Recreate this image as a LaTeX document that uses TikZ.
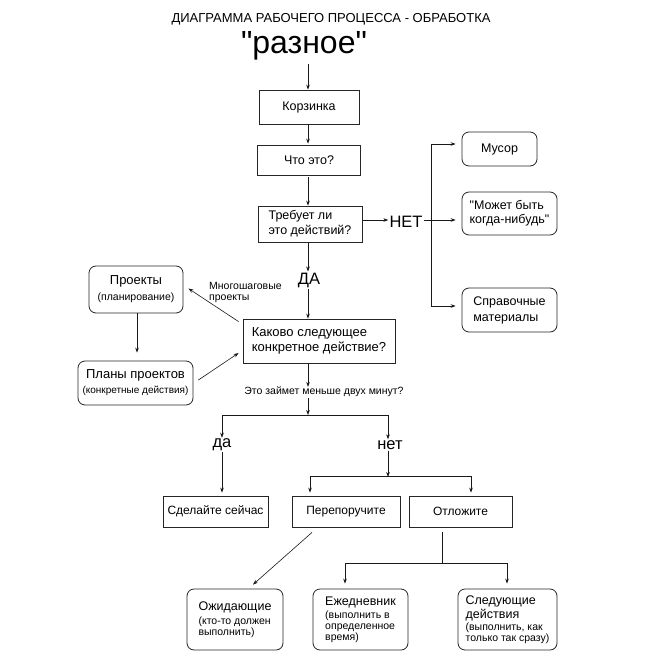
\documentclass[tikz,border=0pt]{standalone}
\usepackage{fontspec}
\setmainfont{Liberation Sans}
\newfontfamily\lsans{Liberation Sans}
\usetikzlibrary{arrows.meta}
\newcommand{\fsT}{\fontsize{13}{15}\selectfont}
\newcommand{\fsBig}{\fontsize{32}{36}\selectfont}
\newcommand{\fsM}{\fontsize{12.5}{15}\selectfont}
\newcommand{\fsL}{\fontsize{16.5}{19}\selectfont}
\newcommand{\fsS}{\fontsize{10.5}{11}\selectfont}
\begin{document}
\begin{tikzpicture}[x=1pt,y=-1pt,
  box/.style={draw=black!85, line width=0.8pt, inner sep=0pt, font=\fsM, align=left},
  rbox/.style={box, rounded corners=7pt},
  lbl/.style={inner sep=1pt},
  arr/.style={-{Stealth[length=5pt,width=3.6pt]}, line width=0.6pt, draw=black!90},
  ln/.style={line width=0.6pt, draw=black!90}]
\useasboundingbox[fill=white] (0,0) rectangle (663,663);

% title
\node[lbl, font=\fsT] (title) at (331,19) {ДИАГРАММА РАБОЧЕГО ПРОЦЕССА - ОБРАБОТКА};
\node[lbl, font=\fsBig\lsans] (razn) at (304,46) {"разное"};

% main column
\node[box, minimum width=100pt, minimum height=34pt] (korz) at (309,107) {Корзинка};
\node[box, minimum width=103pt, minimum height=30pt] (chto) at (309,160) {Что это?};
\node[box, minimum width=104pt, minimum height=36pt] (treb) at (310,224) {Требует ли\\это действий?};
\node[lbl, font=\fsL] (net) at (406,222) {НЕТ};
\node[lbl, font=\fsL] (da) at (309,280) {ДА};

% right branch
\node[rbox, minimum width=75pt, minimum height=34pt] (musor) at (499.5,149) {Мусор};
\node[rbox, minimum width=95pt, minimum height=43pt, font=\fontsize{12.5}{14}\selectfont\lsans] (mozhet) at (509.5,213.5) {"Может быть\\когда-нибудь"};
\node[rbox, minimum width=95pt, minimum height=44pt, font=\fontsize{12.5}{16}\selectfont] (sprav) at (509.5,310) {Справочные\\материалы};

% projects
\node[rbox, minimum width=94pt, minimum height=47pt, align=center] (proj) at (136,289.5) {{\fontsize{13}{13}\selectfont Проекты}\\[1pt]{\fsS (планирование)}};
\node[rbox, minimum width=115pt, minimum height=44pt, align=center] (plany) at (135.5,383) {{\fontsize{13}{13}\selectfont Планы проектов}\\[0pt]{\fontsize{10}{11}\selectfont (конкретные действия)}};
\node[box, minimum width=152pt, minimum height=44pt, font=\fontsize{13}{14.5}\selectfont] (kakovo) at (319,341) {Каково следующее\\конкретное действие?};
\node[lbl, font=\fsS, align=left, anchor=west] (mnog) at (208,292) {Многошаговые\\проекты};

\node[lbl, font=\fsS] (twomin) at (324,392) {Это займет меньше двух минут?};
\node[lbl, font=\fsL] (dasm) at (222,445) {да};
\node[lbl, font=\fsL] (netsm) at (390,445) {нет};

\node[box, minimum width=105pt, minimum height=31pt, font=\fontsize{12}{14}\selectfont] (sdel) at (215.5,511.5) {Сделайте сейчас};
\node[box, minimum width=108pt, minimum height=31pt, font=\fontsize{12}{14}\selectfont] (pere) at (346,511.5) {Перепоручите};
\node[box, minimum width=103pt, minimum height=31pt, font=\fontsize{12}{14}\selectfont] (otl) at (460.5,511.5) {Отложите};

\node[rbox, minimum width=96pt, minimum height=61pt, font=\fsS] (ozh) at (235,619.5) {{\fsM Ожидающие}\\[3pt](кто-то должен\\выполнить)};
\node[rbox, minimum width=95pt, minimum height=61pt, font=\fsS] (ezh) at (360.5,619.5) {{\fsM Ежедневник}\\[2pt](выполнить в\\определенное\\время)};
\node[rbox, minimum width=99pt, minimum height=61pt, font=\fsS] (sled) at (507.5,619.5) {{\fsM Следующие}\\[1pt]{\fsM действия}\\[1pt](выполнить, как\\только так сразу)};

% helper coordinates
\coordinate (axis) at (308,0);
\coordinate (nj) at (431,220);
\coordinate (nt) at (431,144);
\coordinate (nb) at (431,306);
\coordinate (s1) at (308,415);
\coordinate (l1) at (222,415);
\coordinate (r1) at (388,415);
\coordinate (s2) at (388,477);
\coordinate (l2) at (310,476);
\coordinate (r2) at (471,476);
\coordinate (s3) at (442,563);
\coordinate (l3) at (345,563);
\coordinate (r3) at (507,563);

% connectors
\draw[arr] ([yshift=-2pt]razn.south -| axis) -- (korz.north -| axis);
\draw[arr] (korz.south -| axis) -- ([yshift=1pt]chto.north -| axis);
\draw[arr] ([yshift=-2pt]chto.south -| axis) -- (treb.north -| axis);
\draw[arr] (treb.east |- nj) -- (net.west |- nj);
\draw[arr] (treb.south -| axis) -- (da.north -| axis);

\draw[ln] (nt) -- (nb);
\draw[ln] (net.east |- nj) -- (nj);
\draw[arr] (nj) -- ([xshift=-6pt]nj -| mozhet.west);
\draw[arr] (nt) -- ([xshift=-6pt]nt -| musor.west);
\draw[arr] (nb) -- ([xshift=-6pt]nb -| sprav.west);

\draw[arr] (da.south -| axis) -- (kakovo.north -| axis);
\draw[arr] ([shift={(-4pt,-3pt)}]kakovo.north west) -- ([shift={(5pt,1pt)}]proj.east);
\draw[arr] ([xshift=1pt]proj.south) -- ([xshift=1pt,yshift=8pt]plany.north -| proj.south);
\draw[arr] ([shift={(5pt,3pt)}]plany.east) -- ([shift={(-4pt,-12pt)}]kakovo.west);

\draw[arr] (kakovo.south -| axis) -- ([yshift=-1pt]twomin.north -| axis);
\draw[arr] (twomin.south -| axis) -- (s1);
\draw[ln] (l1) -- (r1);
\draw[arr] (l1) -- (l1 |- dasm.north);
\draw[arr] (r1) -- (r1 |- netsm.north);
\draw[arr] (dasm.south -| l1) -- ([yshift=3pt]sdel.north -| l1);
\draw[arr] (netsm.south -| r1) -- (s2);
\draw[ln] (l2) -- (r2);
\draw[arr] (l2) -- ([yshift=3pt]l2 |- pere.north);
\draw[arr] (r2) -- ([yshift=3pt]r2 |- otl.north);

\draw[arr] ([shift={(-34pt,-5pt)}]pere.south) -- ([shift={(18pt,4pt)}]ozh.north);
\draw[ln] ([yshift=-5pt]otl.south -| s3) -- (s3);
\draw[ln] (l3) -- (r3);
\draw[arr] (l3) -- ([yshift=5pt]l3 |- ezh.north);
\draw[arr] (r3) -- ([yshift=5pt]r3 |- sled.north);
\end{tikzpicture}
\end{document}
